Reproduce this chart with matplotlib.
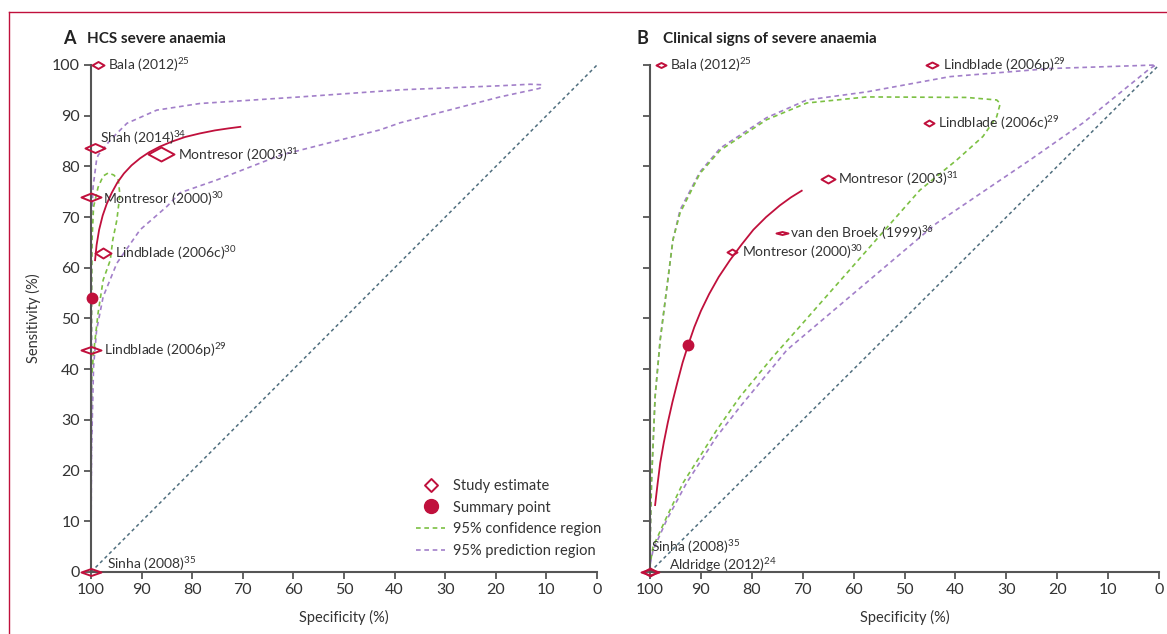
import matplotlib.pyplot as plt
from matplotlib.lines import Line2D
from matplotlib.path import Path

plt.rcParams['font.family'] = ['Lato', 'DejaVu Sans']
plt.rcParams['mathtext.fontset'] = 'custom'
plt.rcParams['mathtext.rm'] = 'Lato'

RED = '#c0103c'
GREEN = '#7cc043'
PURPLE = '#a27fc9'
SLATE = '#4f6e7e'
AXC = '#555555'

# ---- panel A: HCS severe anaemia ----
names_a = ['Bala (2012)', 'Shah (2014)', 'Montresor (2003)', 'Montresor (2000)',
           'Lindblade (2006c)', 'Lindblade (2006p)', 'Sinha (2008)']
refs_a = ['25', '34', '31', '30', '30', '29', '35']
spec_a = [98.6, 99.2, 86.2, 100.0, 97.6, 100.0, 100.0]
sens_a = [100.0, 83.6, 82.4, 74.0, 62.9, 43.8, 0.0]
summary_a = (99.8, 54.0)

sroc_spec_a = [99.2, 98.9, 98.4, 97.7, 96.9, 95.9, 94.8, 93.5, 92.0, 90.3,
               88.5, 86.4, 84.0, 81.4, 78.5, 75.5, 72.8, 70.5]
sroc_sens_a = [61.5, 64.5, 67.5, 70.3, 72.6, 74.8, 76.8, 78.6, 80.2, 81.6,
               82.8, 83.9, 84.9, 85.8, 86.5, 87.1, 87.5, 87.8]

conf_spec_a = [100.0, 99.9, 99.8, 99.5, 98.6, 97.6, 96.6, 95.5, 94.6, 94.3,
               94.9, 95.7, 96.2, 97.6, 98.6, 99.5, 99.9, 100.0]
conf_sens_a = [26.0, 53.6, 65.5, 72.0, 75.9, 78.1, 78.7, 78.3, 77.3, 74.4,
               69.4, 65.5, 61.5, 57.6, 51.1, 43.2, 37.9, 26.0]

pred_spec_a = [100.0, 99.9, 99.9, 99.6, 98.9, 98.6, 96.2, 92.9, 87.0, 78.5,
               58.7, 38.9, 19.2, 13.2, 10.9, 11.3, 19.2, 38.9, 42.9, 62.6,
               75.2, 82.4, 85.0, 90.3, 94.9, 97.6, 98.9, 99.5, 99.9, 100.0]
pred_sens_a = [4.7, 33.9, 69.4, 75.9, 81.3, 82.2, 85.2, 88.5, 91.1, 92.4,
               93.7, 95.1, 95.9, 96.2, 96.1, 95.4, 93.7, 88.6, 87.2, 82.2,
               77.3, 74.8, 72.1, 67.5, 60.9, 54.3, 47.7, 40.5, 24.1, 4.7]

# ---- panel B: clinical signs of severe anaemia ----
names_b = ['Bala (2012)', 'Lindblade (2006p)', 'Lindblade (2006c)', 'Montresor (2003)',
           'van den Broek (1999)', 'Montresor (2000)', 'Sinha (2008)', 'Aldridge (2012)']
refs_b = ['25', '29', '29', '31', '36', '30', '35', '24']
spec_b = [97.8, 44.6, 45.2, 65.0, 74.1, 83.9, 100.0, 100.0]
sens_b = [100.0, 100.0, 88.6, 77.5, 66.9, 63.1, 0.0, 0.0]
summary_b = (92.5, 44.8)

sroc_spec_b = [99.0, 98.5, 98.0, 97.3, 96.5, 95.6, 94.6, 93.6, 92.5, 91.3,
               90.0, 88.4, 86.5, 84.3, 82.0, 79.7, 77.2, 74.5, 72.3, 70.2]
sroc_sens_b = [13.2, 17.5, 21.5, 25.5, 29.5, 33.5, 37.5, 41.3, 44.8, 48.3,
               51.5, 54.8, 58.2, 61.5, 64.6, 67.5, 70.0, 72.3, 73.9, 75.2]

conf_spec_b = [100.0, 100.0, 99.7, 99.0, 98.0, 95.5, 94.1, 90.2, 86.2, 77.1,
               69.2, 57.4, 37.8, 31.9, 31.2, 31.9, 34.6, 39.7, 47.0, 71.2,
               75.8, 82.3, 86.9, 93.5, 96.7, 99.4, 100.0]
conf_sens_b = [1.4, 5.0, 18.1, 34.6, 45.8, 65.5, 70.8, 78.6, 83.2, 89.2,
               92.5, 93.7, 93.6, 93.1, 92.4, 89.8, 85.9, 81.3, 75.3, 47.7,
               42.5, 34.6, 28.0, 17.6, 10.9, 5.0, 1.4]

pred_spec_b = [100.0, 100.0, 99.7, 99.0, 98.0, 95.5, 94.1, 90.2, 86.2, 77.1,
               69.2, 57.4, 41.1, 21.4, 0.6, 1.8, 14.9, 25.3, 43.7, 73.1,
               75.8, 82.3, 86.9, 92.8, 96.7, 99.4, 100.0]
pred_sens_b = [1.4, 5.0, 18.1, 34.6, 45.8, 65.5, 71.4, 78.9, 83.6, 89.6,
               93.1, 94.7, 97.7, 99.3, 100.0, 99.3, 88.6, 81.3, 68.8, 43.8,
               40.5, 32.6, 26.7, 17.6, 10.3, 4.3, 1.4]

# diamond sizes (px, full width x full height) and label offsets (px)
dsize_a = [(12, 7), (20, 9), (26, 14), (20, 8), (16, 10), (20, 7), (20, 7)]
off_a = [(10, 0), (5, 10), (17, 0), (12, -2), (12, 0), (13, 0), (16, 8)]
dsize_b = [(10, 5), (12, 6), (10, 6), (14, 8), (12, 3), (10, 6), (14, 8), (18, 6)]
off_b = [(9, 0), (11, 0), (9, 0), (10, 0), (8, 0), (10, 0), (1, 25), (19, 7)]

PX = 0.72  # points per pixel at dpi 100


def diamond(w, h):
    verts = [(-w / 2, 0), (0, h / 2), (w / 2, 0), (0, -h / 2), (-w / 2, 0)]
    codes = [Path.MOVETO, Path.LINETO, Path.LINETO, Path.LINETO, Path.CLOSEPOLY]
    return Path(verts, codes), max(w, h) * PX


def draw_panel(ax, names, refs, spec, sens, dsize, offs, summary,
               sroc_x, sroc_y, conf_x, conf_y, pred_x, pred_y, ylabels):
    ax.plot([100, 0], [0, 100], color=SLATE, lw=1.1, dashes=(2.2, 2.0))
    ax.plot(pred_x, pred_y, color=PURPLE, lw=1.2, dashes=(2.8, 2.2), clip_on=False)
    ax.plot(conf_x, conf_y, color=GREEN, lw=1.2, dashes=(2.8, 2.2), clip_on=False)
    ax.plot(sroc_x, sroc_y, color=RED, lw=1.3)
    for i in range(len(names)):
        m, ms = diamond(*dsize[i])
        ax.plot(spec[i], sens[i], marker=m, ms=ms, mfc='none', mec=RED, mew=1.4,
                ls='none', clip_on=False, zorder=5)
        ax.annotate(names[i] + r'$^{\mathregular{' + refs[i] + '}}$',
                    (spec[i], sens[i]), xytext=(offs[i][0] * PX, offs[i][1] * PX),
                    textcoords='offset points', ha='left', va='center',
                    fontsize=10, color='#333333', zorder=6)
    ax.plot(summary[0], summary[1], 'o', color=RED, ms=7.5, clip_on=False, zorder=6)

    ax.set_xlim(100, 0)
    ax.set_ylim(0, 100)
    ax.set_xticks(range(100, -1, -10))
    ax.set_yticks(range(0, 101, 10))
    if not ylabels:
        ax.set_yticklabels([])
    for s in ['top', 'right']:
        ax.spines[s].set_visible(False)
    for s in ['left', 'bottom']:
        ax.spines[s].set_color(AXC)
        ax.spines[s].set_linewidth(1.5)
    ax.tick_params(direction='out', length=5, width=1.3, color=AXC,
                   labelsize=11.5, labelcolor='#333333', pad=3)
    ax.set_xlabel('Specificity (%)', fontsize=10.5, color='#333333', labelpad=9)


fig = plt.figure(figsize=(11.67, 6.34), dpi=100)
ax1 = fig.add_axes([0.078, 0.0978, 0.4336, 0.7997])
ax2 = fig.add_axes([0.557, 0.0978, 0.4362, 0.7997])

draw_panel(ax1, names_a, refs_a, spec_a, sens_a, dsize_a, off_a, summary_a,
           sroc_spec_a, sroc_sens_a, conf_spec_a, conf_sens_a,
           pred_spec_a, pred_sens_a, True)
draw_panel(ax2, names_b, refs_b, spec_b, sens_b, dsize_b, off_b, summary_b,
           sroc_spec_b, sroc_sens_b, conf_spec_b, conf_sens_b,
           pred_spec_b, pred_sens_b, False)
ax1.set_ylabel('Sensitivity (%)', fontsize=10.5, color='#333333', labelpad=8)

# panel titles
fig.text(63 / 1167, 1 - 39 / 634, 'A', fontsize=13, fontweight='bold', color='#222222', va='center')
fig.text(87 / 1167, 1 - 39 / 634, 'HCS severe anaemia', fontsize=11, fontweight='bold',
         color='#222222', va='center')
fig.text(637 / 1167, 1 - 39 / 634, 'B', fontsize=13, fontweight='bold', color='#222222', va='center')
fig.text(663 / 1167, 1 - 39 / 634, 'Clinical signs of severe anaemia', fontsize=11,
         fontweight='bold', color='#222222', va='center')

# legend
m_leg, ms_leg = diamond(13, 13)
handles = [
    Line2D([], [], marker=m_leg, ms=ms_leg, mfc='none', mec=RED, mew=1.4, ls='none'),
    Line2D([], [], marker='o', ms=10, color=RED, ls='none'),
    Line2D([], [], color=GREEN, lw=1.2, dashes=(2.8, 2.2)),
    Line2D([], [], color=PURPLE, lw=1.2, dashes=(2.8, 2.2)),
]
labels = ['Study estimate', 'Summary point', '95% confidence region', '95% prediction region']
fig.legend(handles, labels, loc='upper left', bbox_to_anchor=(416 / 1167, 1 - 479 / 634),
           frameon=False, fontsize=10.5, handlelength=2.0, handletextpad=0.55,
           labelspacing=0.52, borderpad=0, borderaxespad=0, labelcolor='#333333')

# page frame lines
fig.add_artist(Line2D([9 / 1167, 1], [1 - 12 / 634, 1 - 12 / 634], color=RED, lw=1.0))
fig.add_artist(Line2D([9 / 1167, 9 / 1167], [0, 1 - 12 / 634], color=RED, lw=1.0))

fig.savefig('out.png', dpi=100)
